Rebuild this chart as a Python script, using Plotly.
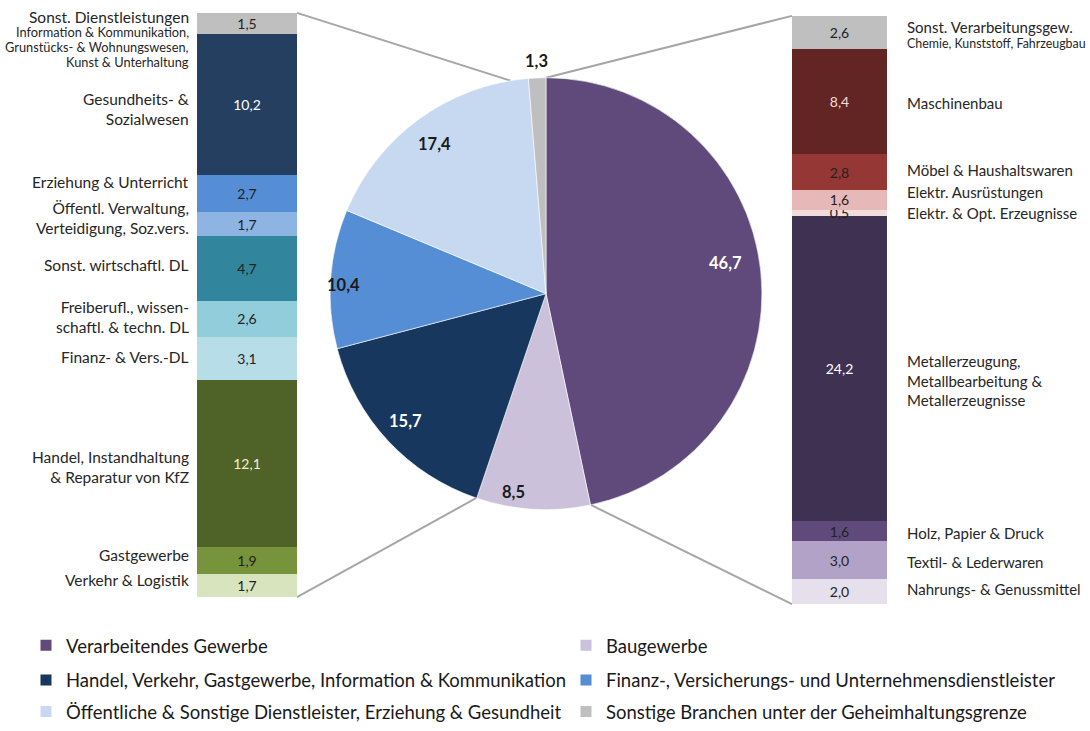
import math
import plotly.graph_objects as go

W, H = 1090, 731
FONT = "Lato"

# ---------------- data ----------------
pie_labels = [
    "Verarbeitendes Gewerbe",
    "Baugewerbe",
    "Handel, Verkehr, Gastgewerbe, Information & Kommunikation",
    "Finanz-, Versicherungs- und Unternehmensdienstleister",
    "Öffentliche & Sonstige Dienstleister, Erziehung & Gesundheit",
    "Sonstige Branchen unter der Geheimhaltungsgrenze",
]
pie_values = [46.7, 8.5, 15.7, 10.4, 17.4, 1.3]

# left bar (top to bottom)
left_labels = [
    "Sonst. Dienstleistungen",
    "Gesundheits- &<br>Sozialwesen",
    "Erziehung & Unterricht",
    "Öffentl. Verwaltung,<br>Verteidigung, Soz.vers.",
    "Sonst. wirtschaftl. DL",
    "Freiberufl., wissen-<br>schaftl. & techn. DL",
    "Finanz- & Vers.-DL",
    "Handel, Instandhaltung<br>& Reparatur von KfZ",
    "Gastgewerbe",
    "Verkehr & Logistik",
]
left_sublabel_lines = ["Information & Kommunikation,", "Grunstücks- & Wohnungswesen,",
                       "Kunst & Unterhaltung"]
left_values = [1.5, 10.2, 2.7, 1.7, 4.7, 2.6, 3.1, 12.1, 1.9, 1.7]

# right bar (top to bottom)
right_labels = [
    "Sonst. Verarbeitungsgew.",
    "Maschinenbau",
    "Möbel & Haushaltswaren",
    "Elektr. Ausrüstungen",
    "Elektr. & Opt. Erzeugnisse",
    "Metallerzeugung,<br>Metallbearbeitung &<br>Metallerzeugnisse",
    "Holz, Papier & Druck",
    "Textil- & Lederwaren",
    "Nahrungs- & Genussmittel",
]
right_sublabel = "Chemie, Kunststoff, Fahrzeugbau"
right_values = [2.6, 8.4, 2.8, 1.6, 0.5, 24.2, 1.6, 3.0, 2.0]

# ---------------- styles ----------------
pie_colors = ["#604A7B", "#CCC1DA", "#17375E", "#558ED5", "#C6D9F1", "#BFBFBF"]
pie_text_colors = ["white", "#1a1a1a", "white", "#1a1a1a", "#1a1a1a", "#1a1a1a"]
pie_label_radius = [0.83, 0.91, 0.88, 0.93, 0.87, 1.08]
pie_label_nudge = [(0, -12), (-21, 2), (0, -2), (0, 5), (0, 2), (0, 0)]

left_colors = ["#BFBFBF", "#243F60", "#558ED5", "#8EB4E3", "#31859C",
               "#92CDDC", "#B7DEE8", "#4F6228", "#77933C", "#D7E4BD"]
left_text_colors = ["#222", "white", "#222", "#222", "#222", "#222", "#222",
                    "#F2F2D0", "#222", "#222"]
left_label_shift = [6.5, -5, 11.5, 6.5, 3, 2, 1, -3, 6, 5]

right_colors = ["#BFBFBF", "#632523", "#953735", "#E6B9B8", "#F2DCDB",
                "#3F3151", "#604A7B", "#B3A2C7", "#E5E0EC"]
right_text_colors = ["#222", "#F2DCDB", "#222", "#222", "#222", "white",
                     "#222", "#222", "#222"]
right_label_shift = [5.5, -1.5, 2, 8, 0, -12, -2, -1.5, 3]

# geometry (window pixels)
PIE_CX, PIE_CY, PIE_R = 546, 296.5, 218
LB_X0, LB_X1, LB_Y0, LB_Y1 = 197, 297, 13, 603
RB_X0, RB_X1, RB_Y0, RB_Y1 = 792, 887, 16, 610


def px(x):
    return x / W


def py(y):
    return 1 - y / H


def fmt(v):
    return f"{v:.1f}".replace(".", ",")


fig = go.Figure()

# ---------------- pie ----------------
fig.add_trace(go.Pie(
    labels=pie_labels, values=pie_values, sort=False, direction="clockwise",
    rotation=0, textinfo="none", showlegend=False,
    marker=dict(colors=pie_colors, line=dict(color="white", width=0.6)),
    domain=dict(x=[px(PIE_CX - PIE_R), px(PIE_CX + PIE_R)],
                y=[py(PIE_CY + PIE_R), py(PIE_CY - PIE_R)]),
    hoverinfo="label+value",
))

annotations = []
total = sum(pie_values)
cum = 0
for v, tc, rf, (dx, dy) in zip(pie_values, pie_text_colors, pie_label_radius, pie_label_nudge):
    ang = math.radians(360 * (cum + v / 2) / total)
    x = PIE_CX + PIE_R * rf * math.sin(ang) + dx
    y = PIE_CY - PIE_R * rf * math.cos(ang) + dy
    annotations.append(dict(
        x=px(x), y=py(y), xref="paper", yref="paper", showarrow=False,
        xanchor="center", yanchor="middle",
        text=f"<b>{fmt(v)}</b>", font=dict(family=FONT, size=16.5, color=tc)))
    cum += v

# ---------------- bars ----------------
def add_bar(values, colors, tcolors, xa, ya):
    for v, c, tc in zip(reversed(values), reversed(colors), reversed(tcolors)):
        fig.add_trace(go.Bar(
            x=[0], y=[v], width=1, marker=dict(color=c, line=dict(width=0)),
            text=[fmt(v)], textposition="inside", insidetextanchor="middle",
            textangle=0, insidetextfont=dict(family=FONT, size=14, color=tc),
            xaxis=xa, yaxis=ya, showlegend=False, hoverinfo="y"))


add_bar(left_values, left_colors, left_text_colors, "x", "y")
add_bar(right_values, right_colors, right_text_colors, "x2", "y2")

cum = sum(left_values)
for i, (lab, v, sh) in enumerate(zip(left_labels, left_values, left_label_shift)):
    center = cum - v / 2
    annotations.append(dict(
        x=px(LB_X0 - 6), y=center, xref="paper", yref="y", xanchor="right",
        yanchor="middle", align="right", showarrow=False, text=lab, yshift=sh,
        font=dict(family=FONT, size=15.5, color="#262626")))
    if i == 0:
        for k, line in enumerate(left_sublabel_lines):
            annotations.append(dict(
                x=px(LB_X0 - 6), y=center, xref="paper", yref="y", xanchor="right",
                yanchor="middle", align="right", showarrow=False, text=line,
                yshift=-9 - 15 * k,
                font=dict(family=FONT, size=12.8, color="#262626")))
    cum -= v

cum = sum(right_values)
for i, (lab, v, sh) in enumerate(zip(right_labels, right_values, right_label_shift)):
    center = cum - v / 2
    annotations.append(dict(
        x=px(RB_X1 + 18), y=center, xref="paper", yref="y2", xanchor="left",
        yanchor="middle", align="left", showarrow=False, text=lab, yshift=sh,
        font=dict(family=FONT, size=15, color="#262626")))
    if i == 0:
        annotations.append(dict(
            x=px(RB_X1 + 18), y=center, xref="paper", yref="y2", xanchor="left",
            yanchor="middle", align="left", showarrow=False, text=right_sublabel,
            yshift=-11.5, font=dict(family=FONT, size=12.4, color="#262626")))
    cum -= v

# ---------------- connector lines ----------------
def pie_point(pct):
    a = math.radians(360 * pct / total)
    return PIE_CX + PIE_R * math.sin(a), PIE_CY - PIE_R * math.cos(a)


left_start = pie_values[0] + pie_values[1]
left_end = left_start + sum(left_values)
shapes = []
for (x0, y0), pct in [((LB_X1, LB_Y0), left_end), ((LB_X1, LB_Y1), left_start),
                      ((RB_X0, RB_Y0), 0), ((RB_X0, RB_Y1), pie_values[0])]:
    x1, y1 = pie_point(pct)
    shapes.append(dict(type="line", xref="paper", yref="paper",
                       x0=px(x0), y0=py(y0), x1=px(x1), y1=py(y1),
                       line=dict(color="#A6A6A6", width=2), layer="below"))

# ---------------- legend (one legend per entry) ----------------
leg_pos = [(26, 652), (566, 652), (26, 687), (566, 687), (26, 719), (566, 719)]
legend_layouts = {}
for i, (lab, col, (lx, ly)) in enumerate(zip(pie_labels, pie_colors, leg_pos)):
    name = "legend" if i == 0 else f"legend{i + 1}"
    fig.add_trace(go.Scatter(
        x=[None], y=[None], mode="markers", name=lab,
        marker=dict(symbol="square", size=11, color=col),
        xaxis="x3", yaxis="y3", legend=name, showlegend=True))
    legend_layouts[name] = dict(
        x=px(lx), y=py(ly), xanchor="left", yanchor="middle",
        bgcolor="rgba(0,0,0,0)", borderwidth=0, itemwidth=30,
        font=dict(family=FONT, size=18.5, color="#1a1a1a"))

hidden = dict(visible=False, fixedrange=True)
fig.update_layout(
    width=W, height=H, margin=dict(l=0, r=0, t=0, b=0),
    paper_bgcolor="white", plot_bgcolor="white", barmode="stack",
    uniformtext=dict(minsize=14, mode="show"),
    xaxis=dict(domain=[px(LB_X0), px(LB_X1)], range=[-0.5, 0.5], **hidden),
    yaxis=dict(domain=[py(LB_Y1), py(LB_Y0)], range=[0, sum(left_values)], **hidden),
    xaxis2=dict(domain=[px(RB_X0), px(RB_X1)], range=[-0.5, 0.5], anchor="y2", **hidden),
    yaxis2=dict(domain=[py(RB_Y1), py(RB_Y0)], range=[0, sum(right_values)], anchor="x2", **hidden),
    xaxis3=dict(domain=[0, 0.01], anchor="y3", **hidden),
    yaxis3=dict(domain=[0, 0.01], anchor="x3", **hidden),
    annotations=annotations, shapes=shapes,
    **legend_layouts,
)

fig.write_html(
    "out.html",
    config=dict(displayModeBar=False, staticPlot=True),
    post_script=(
        "var gd=document.getElementById('{plot_id}');"
        "gd.style.position='fixed';gd.style.left='0px';gd.style.top='0px';"
        "document.body.style.margin='0';"
        "document.documentElement.style.overflow='hidden';"
        "document.body.style.overflow='hidden';"
    ),
)
